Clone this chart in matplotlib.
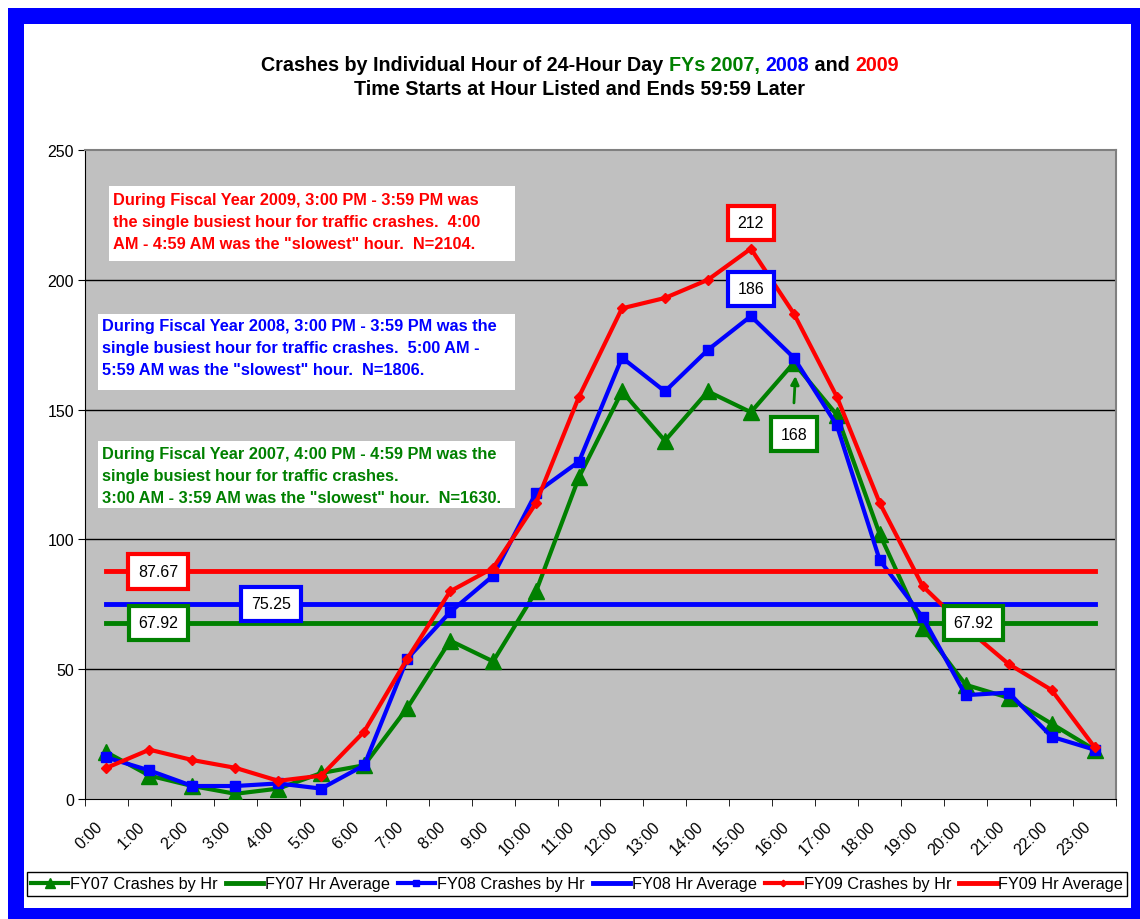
import matplotlib
matplotlib.use('Agg')
import matplotlib.pyplot as plt
import matplotlib.transforms as mtransforms
from matplotlib.patches import Rectangle

plt.rcParams['font.family'] = ['Liberation Sans', 'DejaVu Sans']

# data
hours = ['%d:00' % h for h in range(24)]
fy07 = [18, 9, 5, 2, 4, 10, 13, 35, 61, 53, 80, 124, 157, 138, 157, 149, 168, 148, 102, 66, 44, 39, 29, 19]
fy08 = [16, 11, 5, 5, 6, 4, 13, 54, 72, 86, 118, 130, 170, 157, 173, 186, 170, 144, 92, 70, 40, 41, 24, 19]
fy09 = [12, 19, 15, 12, 7, 9, 26, 54, 80, 89, 114, 155, 189, 193, 200, 212, 187, 155, 114, 82, 66, 52, 42, 20]
avg07 = sum(fy07) / 24
avg08 = sum(fy08) / 24
avg09 = sum(fy09) / 24

GREEN, BLUE, RED = '#008000', '#0000FF', '#FF0000'
W, H = 1140, 920


def fx(x):
    return x / W


def fy(y):
    return 1 - y / H


fig = plt.figure(figsize=(W / 100, H / 100), dpi=100)
fig.patch.set_facecolor('white')
fig.add_artist(Rectangle((fx(8), 0), 1 - fx(8), fy(9), transform=fig.transFigure,
                         facecolor=BLUE, edgecolor='none', zorder=-3))
fig.add_artist(Rectangle((fx(24), fy(909)), fx(1131 - 24), (909 - 25) / H,
                         transform=fig.transFigure, facecolor='white', edgecolor='none', zorder=-2))

ax = fig.add_axes([fx(85), fy(800), fx(1116 - 85), (800 - 151) / H])
ax.set_facecolor('#C0C0C0')
x = list(range(24))

h1, = ax.plot(x, fy07, color=GREEN, lw=3, marker='^', ms=11, zorder=3, label='FY07 Crashes by Hr')
h2, = ax.plot([0, 23], [avg07, avg07], color=GREEN, lw=3.5, zorder=4, label='FY07 Hr Average')
h3, = ax.plot(x, fy08, color=BLUE, lw=3, marker='s', ms=7.5, zorder=5, label='FY08 Crashes by Hr')
h4, = ax.plot([0, 23], [avg08, avg08], color=BLUE, lw=3.5, zorder=6, label='FY08 Hr Average')
h5, = ax.plot(x, fy09, color=RED, lw=3, marker='D', ms=5.5, zorder=7, label='FY09 Crashes by Hr')
h6, = ax.plot([0, 23], [avg09, avg09], color=RED, lw=3.5, zorder=8, label='FY09 Hr Average')

ax.set_xlim(-0.5, 23.5)
ax.set_ylim(0, 250)
ax.set_yticks([0, 50, 100, 150, 200, 250])
ax.tick_params(axis='y', labelsize=11.5, length=5, direction='out', pad=3)
ax.set_xticks(x)
ax.set_xticklabels(hours, rotation=45, ha='right', va='top', rotation_mode='anchor', fontsize=11.5)
ax.set_xticks([i - 0.5 for i in range(25)], minor=True)
ax.tick_params(axis='x', which='major', length=0, pad=14)
ax.tick_params(axis='x', which='minor', length=5, direction='out')
for v in [50, 100, 150, 200]:
    ax.axhline(v, color='black', lw=1, zorder=1)
ax.spines['left'].set_color('black')
ax.spines['bottom'].set_color('black')
for s in ['top', 'right']:
    ax.spines[s].set_color('#808080')
    ax.spines[s].set_linewidth(1.5)


def value_box(xv, yv, txt, color):
    ax.text(xv, yv, txt, ha='center', va='center', fontsize=11.5, zorder=10,
            bbox=dict(boxstyle='square,pad=0.6', facecolor='white', edgecolor=color, lw=3))


value_box(15, 222, '212', RED)
value_box(15, 196.5, '186', BLUE)
value_box(16, 140.5, '168', GREEN)
value_box(1.2, avg09, '%.2f' % avg09, RED)
value_box(3.83, avg08, '%.2f' % avg08, BLUE)
value_box(1.2, avg07, '%.2f' % avg07, GREEN)
value_box(20.18, avg07, '%.2f' % avg07, GREEN)
ax.annotate('', xy=(16.04, 164), xytext=(16.0, 151.5),
            arrowprops=dict(arrowstyle='-|>', color=GREEN, lw=2, mutation_scale=12), zorder=9)


# note boxes
def note(box, lines, x0, y0, color):
    l, t, r, b = box
    fig.add_artist(Rectangle((fx(l), fy(b)), fx(r - l), (b - t) / H, transform=fig.transFigure,
                             facecolor='white', edgecolor='none', zorder=5))
    for i, s in enumerate(lines):
        fig.text(fx(x0), fy(y0 + 22 * i), s, color=color, fontsize=11.8, fontweight='bold',
                 ha='left', va='center', zorder=6)


note((109, 187, 515, 262), ['During Fiscal Year 2009, 3:00 PM - 3:59 PM was',
                            'the single busiest hour for traffic crashes.  4:00',
                            'AM - 4:59 AM was the "slowest" hour.  N=2104.'], 113, 201, RED)
note((98, 315, 515, 391), ['During Fiscal Year 2008, 3:00 PM - 3:59 PM was the',
                           'single busiest hour for traffic crashes.  5:00 AM -',
                           '5:59 AM was the "slowest" hour.  N=1806.'], 102, 327, BLUE)
note((98, 442, 515, 509), ['During Fiscal Year 2007, 4:00 PM - 4:59 PM was the',
                           'single busiest hour for traffic crashes.',
                           '3:00 AM - 3:59 AM was the "slowest" hour.  N=1630.'], 102, 455, GREEN)

# title with coloured years
tfs = 14.2
parts = [('Crashes by Individual Hour of 24-Hour Day ', 'black'), ('FYs 2007, ', GREEN),
         ('2008', BLUE), (' and ', 'black'), ('2009', RED)]
pieces = [fig.text(0, fy(71), s, color=c, fontsize=tfs, fontweight='bold', ha='left', va='baseline')
          for s, c in parts]
fig.canvas.draw()
r = fig.canvas.get_renderer()
widths = [p.get_window_extent(r).width for p in pieces]
xpos = 580 - sum(widths) / 2
for p, w in zip(pieces, widths):
    p.set_x(xpos / W)
    xpos += w
fig.text(fx(580), fy(95), 'Time Starts at Hour Listed and Ends 59:59 Later', fontsize=tfs,
         fontweight='bold', ha='center', va='baseline')

# nudge hour labels left, as in the original
shift = mtransforms.ScaledTranslation(-0.12, 0, fig.dpi_scale_trans)
for tick in ax.xaxis.get_major_ticks():
    tick.label1.set_transform(ax.get_xaxis_text1_transform(14)[0] + shift)

leg = fig.legend(handles=[h1, h2, h3, h4, h5, h6], loc='center', ncol=6,
                 bbox_to_anchor=(fx(577), fy(885)), fontsize=11.7, frameon=True, fancybox=False,
                 framealpha=1, edgecolor='black', handlelength=2.3, handletextpad=0.1,
                 columnspacing=0.5, borderpad=0.25, markerscale=0.6)
leg.get_frame().set_linewidth(1)

fig.savefig('out.png', dpi=100, facecolor='white')
